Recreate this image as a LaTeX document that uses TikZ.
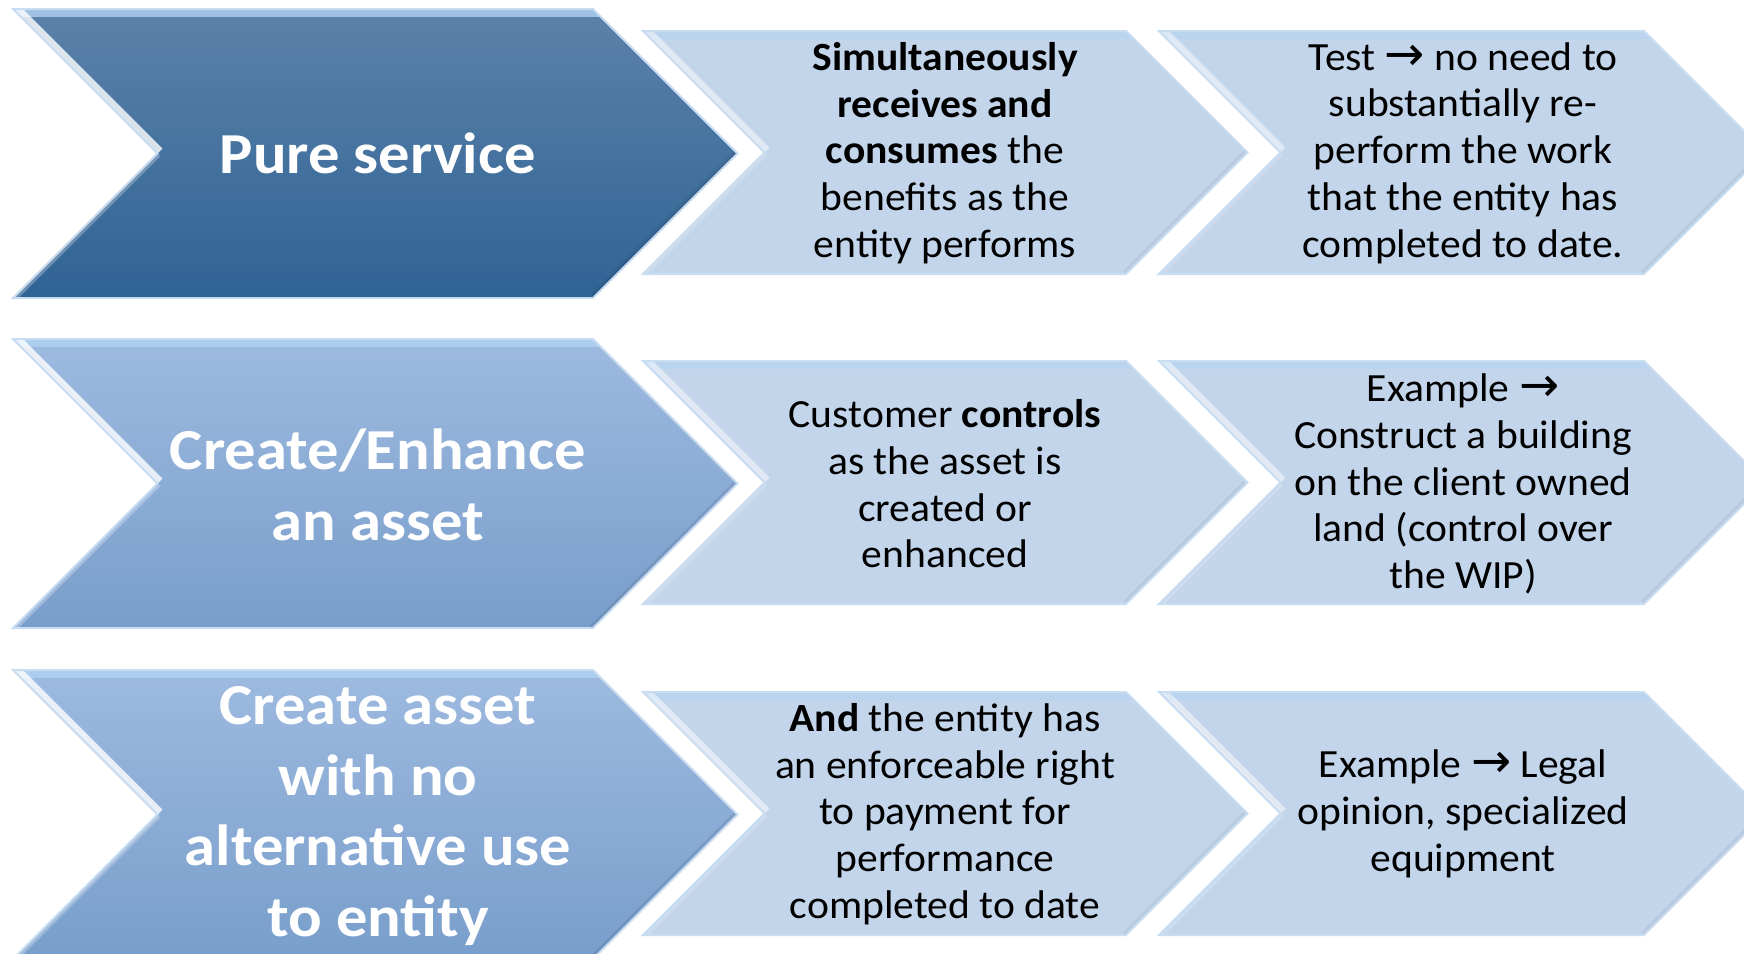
\documentclass[tikz,border=0pt]{standalone}
\usepackage{fontspec}
\setmainfont{Carlito}
\newfontfamily\arrowfont{DejaVu Sans}
\newcommand\rarr{{\arrowfont\fontsize{48}{48}\selectfont\char"2192}}
\definecolor{dkTop}{RGB}{92,130,170}
\definecolor{dkBot}{RGB}{47,99,148}
\definecolor{mdTop}{RGB}{158,186,224}
\definecolor{mdBot}{RGB}{120,158,203}
\definecolor{ltFill}{RGB}{195,213,234}
\definecolor{bevelTop}{RGB}{178,210,242}
\definecolor{edgeCol}{RGB}{200,220,242}
\tikzset{
  bigtext/.style={text=white, font=\bfseries\fontsize{58}{70.5}\selectfont\addfontfeature{FakeStretch=1.08}, align=center, inner sep=0pt},
  smalltext/.style={text=black, font=\fontsize{40}{46.7}\selectfont\addfontfeature{FakeStretch=1.04}, align=center, inner sep=0pt},
  darkfill/.style={top color=dkTop, bottom color=dkBot},
  medfill/.style={top color=mdTop, bottom color=mdBot},
  lightfill/.style={fill=ltFill},
  edgeline/.style={draw=edgeCol, line width=2pt, line join=miter},
}
% #1 L, #2 T, #3 R (top right x), #4 H, #5 fill style, #6 bevel strength
\newcommand\chev[6]{%
  \begin{scope}
    \path[clip] (#1,#2) -- (#3,#2) -- ++(#4/2,#4/2) -- ++(-#4/2,#4/2) -- (#1,#2+#4) -- ++(#4/2,-#4/2) -- cycle;
    \fill[#5] (#1-4,#2-2) rectangle (#3+#4/2+4,#2+#4+2);
    \draw[bevelTop,opacity=#6,line width=16pt] (#1,#2) -- (#3+10,#2);
    \draw[white,opacity=#6,line width=14pt] (#1,#2) -- ++(#4/2,#4/2);
    \draw[white,opacity=0.35*#6,line width=8pt] (#1,#2+#4) -- ++(#4/2,-#4/2);
    \draw[black,opacity=0.10*#6,line width=8pt] (#3,#2+#4) -- ++(#4/2,-#4/2);
  \end{scope}
  \path[edgeline] (#1,#2) -- (#3,#2) -- ++(#4/2,#4/2) -- ++(-#4/2,#4/2) -- (#1,#2+#4) -- ++(#4/2,-#4/2) -- cycle;
}
\begin{document}
\begin{tikzpicture}[x=1pt,y=-1pt]
\useasboundingbox (0,0) rectangle (1744,953);
\fill[white] (0,0) rectangle (1744,953);

% Row 1
\chev{13}{9}{593}{289}{darkfill}{0.8}
\chev{643}{31}{1126}{243}{lightfill}{0.5}
\chev{1159}{31}{1644}{243}{lightfill}{0.5}
% Row 2
\chev{13}{339}{593}{289}{medfill}{0.8}
\chev{643}{361}{1126}{243}{lightfill}{0.5}
\chev{1159}{361}{1644}{243}{lightfill}{0.5}
% Row 3
\chev{13}{670}{593}{289}{medfill}{0.8}
\chev{643}{692}{1126}{243}{lightfill}{0.5}
\chev{1159}{692}{1644}{243}{lightfill}{0.5}

% Texts
\node[bigtext] (b1) at (378,153) {Pure service};
\node[smalltext] (m1) at (945,153) {\textbf{Simultaneously}\\\textbf{receives and}\\\textbf{consumes} the\\benefits as the\\entity performs};
\node[smalltext] (r1) at (1463,153) {Test \rarr{} no need to\\substantially re-\\perform the work\\that the entity has\\completed to date.};

\node[bigtext] (b2) at (378,485) {Create/Enhance\\an asset};
\node[smalltext] (m2) at (945,484) {Customer \textbf{controls}\\as the asset is\\created or\\enhanced};
\node[smalltext] (r2) at (1463,484) {Example \rarr\\Construct a building\\on the client owned\\land (control over\\the WIP)};

\node[bigtext] (b3) at (378,816) {Create asset\\with no\\alternative use\\to entity};
\node[smalltext] (m3) at (945,814) {\textbf{And} the entity has\\an enforceable right\\to payment for\\performance\\completed to date};
\node[smalltext] (r3) at (1463,814) {Example \rarr{} Legal\\opinion, specialized\\equipment};
\end{tikzpicture}
\end{document}
